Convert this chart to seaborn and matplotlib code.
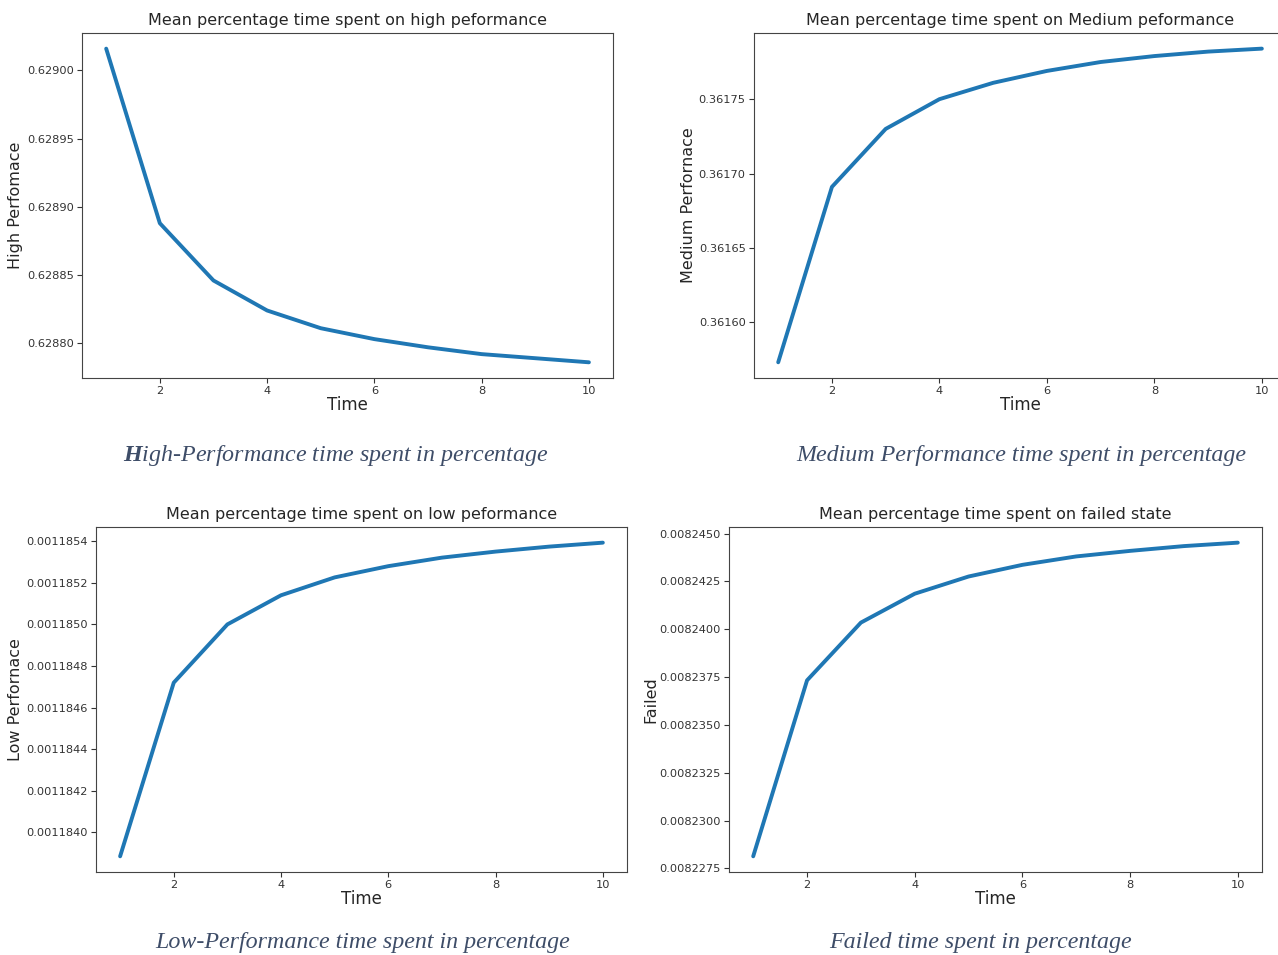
import matplotlib
matplotlib.use("Agg")
import matplotlib.pyplot as plt
import seaborn as sns
import pandas as pd
from matplotlib.ticker import MultipleLocator, FormatStrFormatter

# values
time = [1, 2, 3, 4, 5, 6, 7, 8, 9, 10]
high_perf = [0.629016, 0.628888, 0.628846, 0.628824, 0.628811,
             0.628803, 0.628797, 0.628792, 0.628789, 0.628786]
medium_perf = [0.361573, 0.361691, 0.361730, 0.361750, 0.361761,
               0.361769, 0.361775, 0.361779, 0.361782, 0.361784]
low_perf = [0.001183885, 0.00118472, 0.00118500, 0.00118514, 0.001185226,
            0.00118528, 0.001185321, 0.00118535, 0.001185374, 0.001185393]
failed = [0.00822813, 0.00823733, 0.00824035, 0.00824186, 0.00824276,
          0.00824337, 0.00824381, 0.00824410, 0.00824435, 0.00824453]

titles = ["Mean percentage time spent on high peformance",
          "Mean percentage time spent on Medium peformance",
          "Mean percentage time spent on low peformance",
          "Mean percentage time spent on failed state"]
ylabels = ["High Perfomace", "Medium Perfornace", "Low Perfornace", "Failed"]
captions = [r"$\mathbf{H}$igh-Performance time spent in percentage",
            "Medium Performance time spent in percentage",
            "Low-Performance time spent in percentage",
            "Failed time spent in percentage"]

sns.set_style("ticks")
plt.rcParams['font.family'] = ['DejaVu Sans']
plt.rcParams['mathtext.fontset'] = 'custom'
plt.rcParams['mathtext.rm'] = 'Liberation Serif:italic'
plt.rcParams['mathtext.it'] = 'Liberation Serif:italic'
plt.rcParams['mathtext.bf'] = 'Liberation Serif:italic:bold'

fig = plt.figure(figsize=(12.78, 9.55), dpi=100)

# axes boxes (left, bottom, width, height) in figure fractions
boxes = [(0.0642, 0.6042, 0.4155, 0.3613),
         (0.5900, 0.6042, 0.4163, 0.3613),
         (0.0751, 0.0869, 0.4155, 0.3613),
         (0.5704, 0.0869, 0.4171, 0.3613)]
series = [high_perf, medium_perf, low_perf, failed]
steps = [0.00005, 0.00005, 0.0000002, 0.0000025]
fmts = ['%.5f', '%.5f', '%.7f', '%.7f']
ylab_x = [-0.111, -0.109, -0.138, -0.133]
cap_pos = [(0.263, 0.5173), (0.799, 0.5173), (0.284, 0.0075), (0.767, 0.0075)]

for i in range(4):
    ax = fig.add_axes(boxes[i])
    df = pd.DataFrame({"Time": time, "value": series[i]})
    sns.lineplot(data=df, x="Time", y="value", ax=ax, color="#1f77b4", linewidth=2.8)
    ax.set_title(titles[i], fontsize=11.5)
    ax.set_xlabel("Time", fontsize=12, labelpad=0)
    ax.set_ylabel(ylabels[i], fontsize=11.5)
    ax.yaxis.set_label_coords(ylab_x[i], 0.5)
    ax.yaxis.set_major_locator(MultipleLocator(steps[i]))
    ax.yaxis.set_major_formatter(FormatStrFormatter(fmts[i]))
    ax.tick_params(labelsize=8.2, colors="#333333", length=3.5, pad=2.5)
    for s in ax.spines.values():
        s.set_color("#444444")
    fig.text(cap_pos[i][0], cap_pos[i][1], captions[i], ha="center", va="baseline",
             fontsize=17.3, family="Liberation Serif", style="italic", color="#3E4D68")

fig.savefig("out.png", dpi=100)
